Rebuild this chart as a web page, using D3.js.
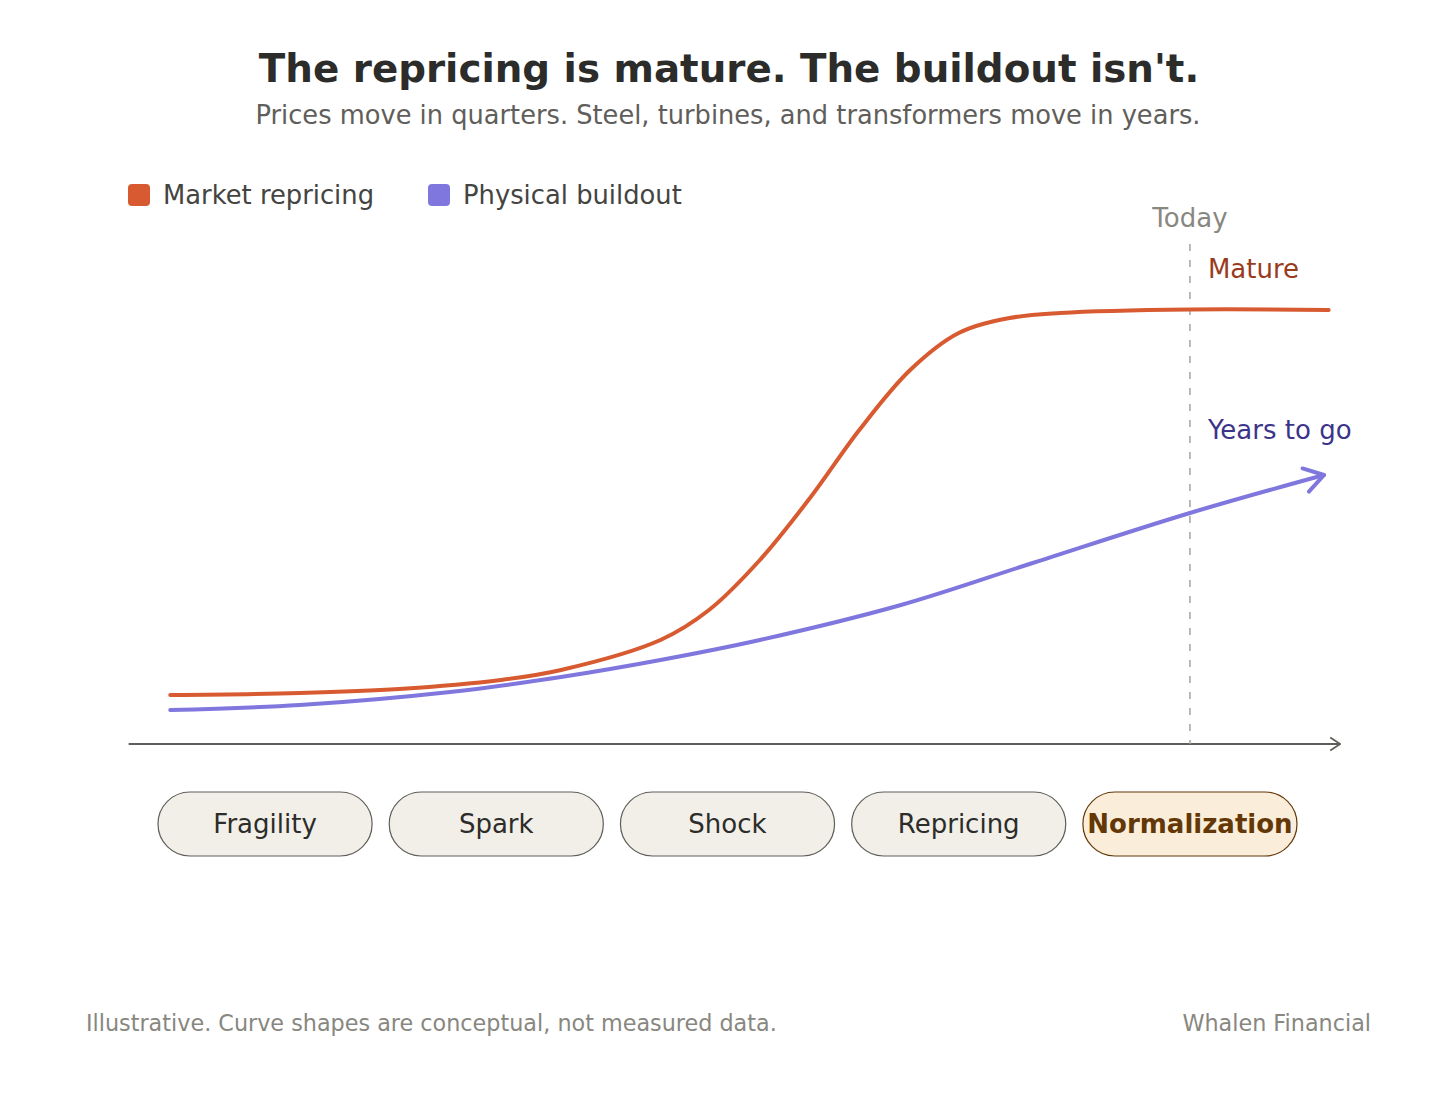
<!DOCTYPE html>
<html>
<head>
<meta charset="utf-8">
<script src="https://cdn.jsdelivr.net/npm/d3@7"></script>
<style>
  html, body { margin: 0; padding: 0; background: #fff; }
  svg { display: block; font-family: "DejaVu Sans", sans-serif; }
</style>
</head>
<body>
<svg id="chart" width="1456" height="1113"></svg>
<script>
// phases along the bottom, the last one is "today"
const phases = ["Fragility", "Spark", "Shock", "Repricing", "Normalization"];
const activePhase = "Normalization";
const today = 4;

// t is measured in phase units (0 = Fragility ... 4 = Normalization)
const marketT = [-0.41, 0.15, 0.58, 1.02, 1.28, 1.71, 1.92, 2.14, 2.36, 2.57, 2.79, 3.0, 3.22, 3.44, 4.0, 4.6];
const marketV = [9.8, 10.2, 11.0, 12.8, 14.8, 20.8, 26.8, 36.8, 49.4, 62.8, 74.8, 82.2, 85.2, 86.2, 86.9, 86.8];

const buildT = [-0.41, 0.15, 0.8, 1.28, 1.71, 2.14, 2.75, 3.32, 4.0, 4.58];
const buildV = [6.8, 7.8, 10.4, 13.4, 16.8, 20.8, 27.8, 36.2, 46.2, 53.8];

const series = [
  { name: "Market repricing", t: marketT, v: marketV, color: "#D85A30" },
  { name: "Physical buildout", t: buildT, v: buildV, color: "#7F77DD" }
];

const svg = d3.select("#chart");

// title block
svg.append("text")
  .attr("x", 729).attr("y", 82)
  .attr("text-anchor", "middle")
  .attr("font-size", "38.8px").attr("font-weight", "bold")
  .attr("fill", "#2C2C2A")
  .text("The repricing is mature. The buildout isn't.");

svg.append("text")
  .attr("x", 728).attr("y", 124)
  .attr("text-anchor", "middle")
  .attr("font-size", "25.7px")
  .attr("fill", "#5F5E5A")
  .text("Prices move in quarters. Steel, turbines, and transformers move in years.");

// legend
const legend = svg.append("g").attr("transform", "translate(128,184)");
const legendX = [0, 300];
series.forEach((s, i) => {
  const g = legend.append("g").attr("transform", `translate(${legendX[i]},0)`);
  g.append("rect").attr("width", 22).attr("height", 22).attr("rx", 4).attr("fill", s.color);
  g.append("text").attr("x", 35).attr("y", 20)
    .attr("font-size", "25.8px").attr("fill", "#444441")
    .text(s.name);
});

// scales
const band = d3.scaleBand().domain(phases).range([158, 1297]).paddingInner(0.074);
const x = d3.scaleLinear()
  .domain([0, phases.length - 1])
  .range([band(phases[0]) + band.bandwidth() / 2, band(phases[phases.length - 1]) + band.bandwidth() / 2]);
const y = d3.scaleLinear().domain([0, 100]).range([744, 244]);

const defs = svg.append("defs");
defs.append("marker")
  .attr("id", "axis-arrow")
  .attr("viewBox", "0 0 12 16")
  .attr("refX", 11).attr("refY", 8)
  .attr("markerWidth", 12).attr("markerHeight", 16)
  .attr("markerUnits", "userSpaceOnUse")
  .attr("orient", "auto")
  .append("path")
  .attr("d", "M1,1.5 L11,8 L1,14.5")
  .attr("fill", "none").attr("stroke", "#5F5E5A").attr("stroke-width", 1.8);

defs.append("marker")
  .attr("id", "build-arrow")
  .attr("viewBox", "0 0 24 30")
  .attr("refX", 22).attr("refY", 15)
  .attr("markerWidth", 24).attr("markerHeight", 30)
  .attr("markerUnits", "userSpaceOnUse")
  .attr("orient", "auto")
  .append("path")
  .attr("d", "M3,3 L22,15 L3,27")
  .attr("fill", "none").attr("stroke", "#7F77DD").attr("stroke-width", 4)
  .attr("stroke-linecap", "round").attr("stroke-linejoin", "round");

// time axis
svg.append("line")
  .attr("x1", x(-0.59)).attr("x2", x(4.65))
  .attr("y1", y(0)).attr("y2", y(0))
  .attr("stroke", "#5F5E5A").attr("stroke-width", 1.8)
  .attr("marker-end", "url(#axis-arrow)");

// today marker
svg.append("line")
  .attr("x1", x(today)).attr("x2", x(today))
  .attr("y1", y(100)).attr("y2", y(0))
  .attr("stroke", "#A3A29C").attr("stroke-width", 1.5)
  .attr("stroke-dasharray", "7,9");

svg.append("text")
  .attr("x", x(today)).attr("y", 227)
  .attr("text-anchor", "middle")
  .attr("font-size", "26px").attr("fill", "#888780")
  .text("Today");

// curves
const line = d3.line()
  .x(d => x(d[0]))
  .y(d => y(d[1]))
  .curve(d3.curveCatmullRom.alpha(0.5));

series.forEach((s, i) => {
  const pts = s.t.map((t, j) => [t, s.v[j]]);
  svg.append("path")
    .datum(pts)
    .attr("d", line)
    .attr("fill", "none")
    .attr("stroke", s.color)
    .attr("stroke-width", 4)
    .attr("stroke-linecap", "round")
    .attr("marker-end", i === 1 ? "url(#build-arrow)" : null);
});

// annotations
svg.append("text")
  .attr("x", x(today) + 18).attr("y", 278)
  .attr("font-size", "26px").attr("fill", "#993C1D")
  .text("Mature");

svg.append("text")
  .attr("x", x(today) + 18).attr("y", 439)
  .attr("font-size", "26px").attr("fill", "#3C3489")
  .text("Years to go");

// phase pills
const pills = svg.append("g").selectAll("g")
  .data(phases)
  .join("g")
  .attr("transform", d => `translate(${band(d)},792)`);

pills.append("rect")
  .attr("width", band.bandwidth())
  .attr("height", 64)
  .attr("rx", 32)
  .attr("fill", d => d === activePhase ? "#FAEEDA" : "#F1EFE8")
  .attr("stroke", d => d === activePhase ? "#633806" : "#5F5E5A")
  .attr("stroke-width", 1.2);

pills.append("text")
  .attr("x", band.bandwidth() / 2)
  .attr("y", 41)
  .attr("text-anchor", "middle")
  .attr("font-size", "26px")
  .attr("font-weight", d => d === activePhase ? "bold" : "normal")
  .attr("fill", d => d === activePhase ? "#633806" : "#2C2C2A")
  .text(d => d);

// footer
svg.append("text")
  .attr("x", 86).attr("y", 1031)
  .attr("font-size", "22.3px").attr("fill", "#888780")
  .text("Illustrative. Curve shapes are conceptual, not measured data.");

svg.append("text")
  .attr("x", 1371).attr("y", 1031)
  .attr("text-anchor", "end")
  .attr("font-size", "22.3px").attr("fill", "#888780")
  .text("Whalen Financial");
</script>
</body>
</html>
